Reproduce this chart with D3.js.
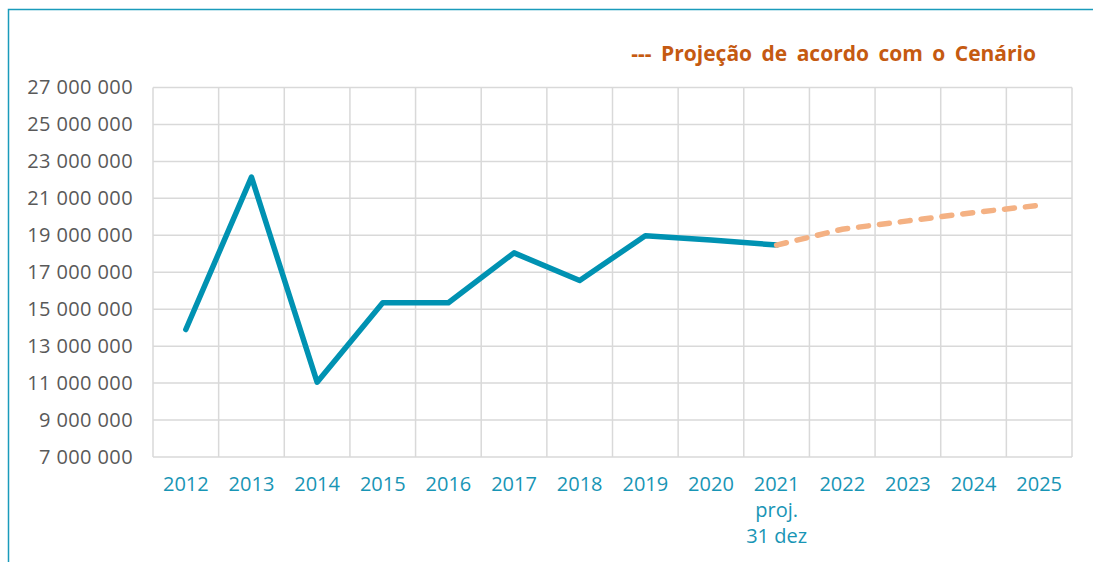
<!DOCTYPE html>
<html>
<head>
<meta charset="utf-8">
<script src="https://cdn.jsdelivr.net/npm/d3@7"></script>
<style>
  body { margin: 0; background: #fff; }
  svg text { font-family: "Open Sans", "Noto Sans", sans-serif; }
</style>
</head>
<body>
<div id="chart"></div>
<script>
// data
var years = ["2012","2013","2014","2015","2016","2017","2018","2019","2020","2021","2022","2023","2024","2025"];
var actualYears = ["2012","2013","2014","2015","2016","2017","2018","2019","2020","2021"];
var actualValues = [13900000, 22150000, 11050000, 15350000, 15350000, 18050000, 16550000, 18980000, 18750000, 18470000];
var projYears = ["2021","2022","2023","2024","2025"];
var projValues = [18470000, 19330000, 19780000, 20230000, 20620000];
var yTicks = [7000000, 9000000, 11000000, 13000000, 15000000, 17000000, 19000000, 21000000, 23000000, 25000000, 27000000];
var title = "--- Projeção de acordo com o Cenário";

var total_width = 1093, total_height = 562;
var margin = {top: 87.5, right: 21, bottom: 105, left: 153};
var width = total_width - margin.left - margin.right,
    height = total_height - margin.top - margin.bottom;

var svg = d3.select("#chart").append("svg")
    .attr("width", total_width)
    .attr("height", total_height);

// outer frame (runs off the right and bottom edges)
svg.append("rect")
    .attr("x", 8.5).attr("y", 9.5)
    .attr("width", 1100).attr("height", 600)
    .attr("fill", "none")
    .attr("stroke", "#1a9bbb")
    .attr("stroke-width", 1.5);

var g = svg.append("g")
    .attr("transform", "translate(" + margin.left + "," + margin.top + ")");

var x = d3.scaleBand().domain(years).range([0, width]);
var y = d3.scaleLinear().domain([7000000, 27000000]).range([height, 0]);

var fmt = function(d) { return d3.format(",")(d).replace(/,/g, " "); };

// horizontal grid
g.append("g").selectAll("line")
  .data(yTicks)
  .enter().append("line")
    .attr("x1", 0).attr("x2", width)
    .attr("y1", d => y(d)).attr("y2", d => y(d))
    .attr("stroke", "#d9d9d9").attr("stroke-width", 1.5);

// vertical grid
var xEdges = years.map(d => x(d)).concat([width]);
g.append("g").selectAll("line")
  .data(xEdges)
  .enter().append("line")
    .attr("x1", d => d).attr("x2", d => d)
    .attr("y1", 0).attr("y2", height)
    .attr("stroke", "#d9d9d9").attr("stroke-width", 1.5);

// y axis labels
var yAxis = g.append("g")
    .call(d3.axisLeft(y).tickValues(yTicks).tickFormat(fmt).tickSize(0).tickPadding(20));
yAxis.select(".domain").remove();
yAxis.selectAll("text")
    .attr("fill", "#595959")
    .style("font-size", "20px")
    .style("letter-spacing", "0.4px");

// x axis labels
var xAxis = g.append("g")
    .attr("transform", "translate(0," + height + ")")
    .call(d3.axisBottom(x).tickSize(0).tickPadding(20));
xAxis.select(".domain").remove();
xAxis.selectAll("text")
    .attr("fill", "#1895b5")
    .style("font-size", "20px");
var t2021 = xAxis.selectAll(".tick").filter(d => d == "2021").select("text");
t2021.append("tspan").attr("x", 0).attr("dy", "1.3em").text("proj.");
t2021.append("tspan").attr("x", 0).attr("dy", "1.3em").text("31 dez");

// actual line
g.append("path")
    .datum(actualYears.map((d, i) => ({x: d, y: actualValues[i]})))
    .attr("fill", "none")
    .attr("stroke", "#0092b2")
    .attr("stroke-width", 5.5)
    .attr("stroke-linejoin", "round")
    .attr("stroke-linecap", "round")
    .attr("d", d3.line()
        .x(d => x(d.x) + x.bandwidth() / 2)
        .y(d => y(d.y)));

// projection
g.append("path")
    .datum(projYears.map((d, i) => ({x: d, y: projValues[i]})))
    .attr("fill", "none")
    .attr("stroke", "#f4b183")
    .attr("stroke-width", 5.5)
    .attr("stroke-dasharray", "10,11")
    .attr("stroke-linecap", "round")
    .attr("d", d3.line()
        .x(d => x(d.x) + x.bandwidth() / 2)
        .y(d => y(d.y)));

// title
svg.append("text")
    .attr("x", 1036).attr("y", 61)
    .attr("text-anchor", "end")
    .attr("fill", "#c55a11")
    .style("font-size", "21px")
    .style("font-weight", "bold")
    .style("word-spacing", "4px")
    .text(title);
</script>
</body>
</html>
